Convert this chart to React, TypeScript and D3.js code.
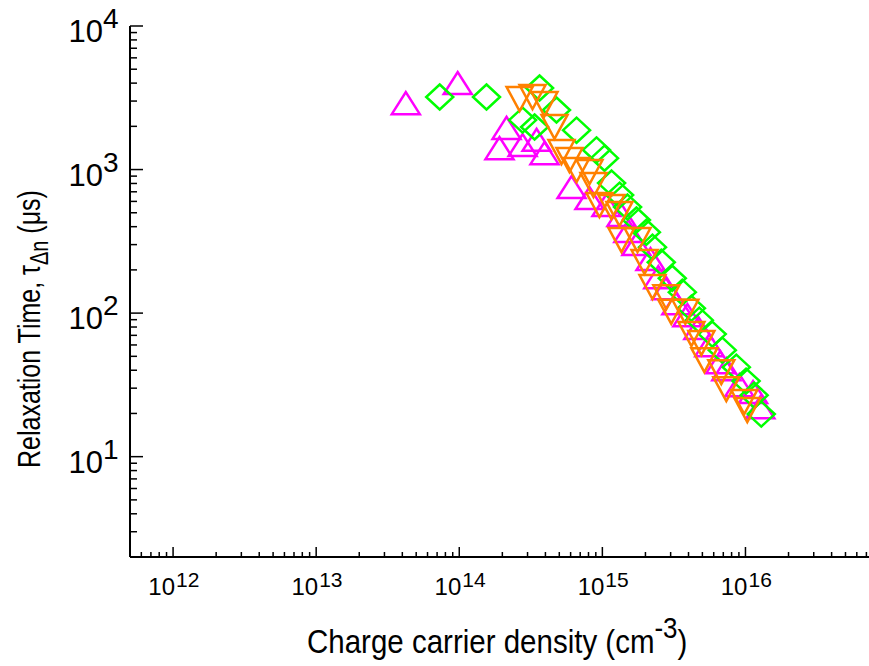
import React, { useEffect, useRef } from 'react';
import * as d3 from 'd3';

// Charge carrier density (cm^-3) and relaxation time (µs)
const magentaX = [4.23e13, 9.75e13, 2.14e14, 1.91e14, 2.77e14, 3.47e14, 3.94e14, 6.09e14, 8.13e14, 1.068e15, 1.36e15, 1.52e15, 1.73e15, 2.17e15, 2.46e15, 2.8e15, 3.29e15, 3.93e15, 4.69e15, 5.59e15, 6.67e15, 7.35e15, 9.06e15, 1.13e16, 1.27e16];
const magentaY = [2900, 4010, 1950, 1410, 1480, 1610, 1300, 755, 633, 566, 482, 373, 303, 238, 178, 149, 117, 96.8, 78.6, 59.8, 45.5, 40.7, 31.5, 28.2, 22.1];

const greenX = [7.3e13, 1.55e14, 2.77e14, 3.36e14, 3.64e14, 4.78e14, 6.6e14, 9.1e14, 1.035e15, 1.16e15, 1.32e15, 1.5e15, 1.73e15, 2.03e15, 2.24e15, 2.58e15, 3.08e15, 3.62e15, 4.19e15, 4.76e15, 5.86e15, 6.89e15, 8.63e15, 1.01e16, 1.15e16, 1.29e16];
const greenY = [3200, 3200, 2210, 1980, 3700, 2600, 1880, 1370, 1200, 805, 664, 548, 445, 366, 288, 226, 175, 140, 108, 89.3, 71.4, 55.2, 42.0, 33.6, 26.8, 19.8];

const orangeX = [2.64e14, 3.25e14, 3.94e14, 4.63e14, 5.18e14, 5.89e14, 6.6e14, 8.13e14, 8.67e14, 9.54e14, 1.157e15, 1.316e15, 1.36e15, 1.76e15, 1.97e15, 2.24e15, 2.8e15, 3.03e15, 3.8e15, 4.19e15, 4.92e15, 5.16e15, 6.78e15, 7.35e15, 9.81e15, 1.03e16];
const orangeY = [3100, 3200, 2860, 1980, 1325, 1165, 992, 961, 780, 566, 548, 490, 323, 323, 227, 152, 129, 102, 102, 71.4, 61.8, 47.0, 38.8, 29.5, 24.0, 21.1];

const xExponents = ['12', '13', '14', '15', '16'];
const yExponents = ['1', '2', '3', '4'];

const FONT = '"Liberation Sans", Arial, sans-serif';

const App = () => {
  const ref = useRef<SVGSVGElement>(null);

  useEffect(() => {
    const svg = d3.select(ref.current);
    svg.selectAll('*').remove();

    const x = d3.scaleLog().domain([5e11, 7.3e16]).range([130, 869]);
    const y = d3.scaleLog().domain([2, 1e4]).range([557, 26]);
    const isMajor = (v: number) => Math.abs(Math.log10(v) - Math.round(Math.log10(v))) < 1e-6;

    // axis lines
    svg.append('line').attr('x1', 130).attr('x2', 130).attr('y1', 26).attr('y2', 557)
      .attr('stroke', 'black').attr('stroke-width', 2);
    svg.append('line').attr('x1', 130).attr('x2', 869).attr('y1', 557).attr('y2', 557)
      .attr('stroke', 'black').attr('stroke-width', 2);

    // ticks, pointing into the plot
    svg.selectAll('.xtick').data(x.ticks()).enter().append('line')
      .attr('x1', d => x(d)).attr('x2', d => x(d))
      .attr('y1', 557).attr('y2', d => 557 - (isMajor(d) ? 10 : 5))
      .attr('stroke', 'black').attr('stroke-width', 1.5);
    svg.selectAll('.ytick').data(y.ticks()).enter().append('line')
      .attr('y1', d => y(d)).attr('y2', d => y(d))
      .attr('x1', 130).attr('x2', d => 130 + (isMajor(d) ? 13 : 7))
      .attr('stroke', 'black').attr('stroke-width', 1.5);

    // x tick labels: 10^n
    xExponents.forEach(e => {
      const px = x(Math.pow(10, +e));
      svg.append('text').attr('x', px + 2).attr('y', 595).attr('text-anchor', 'end')
        .attr('font-family', FONT).attr('font-size', 24).text('10');
      svg.append('text').attr('x', px + 3).attr('y', 587)
        .attr('font-family', FONT).attr('font-size', 21).text(e);
    });

    // y tick labels
    yExponents.forEach(e => {
      const py = y(Math.pow(10, +e));
      svg.append('text').attr('x', 103).attr('y', py + 16).attr('text-anchor', 'end')
        .attr('font-family', FONT).attr('font-size', 31).text('10');
      svg.append('text').attr('x', 103).attr('y', py + 2)
        .attr('font-family', FONT).attr('font-size', 28).text(e);
    });

    // axis titles
    const xt = svg.append('g').attr('transform', 'translate(307,653) scale(1,1.12)')
      .append('text').attr('font-family', FONT).attr('font-size', 29.5);
    xt.append('tspan').text('Charge carrier density (cm');
    xt.append('tspan').attr('font-size', 26).attr('dy', -13).text('-3');
    xt.append('tspan').attr('dy', 13).text(')');

    const yt = svg.append('g').attr('transform', 'translate(40,468) rotate(-90) scale(1,1.25)')
      .append('text').attr('font-family', FONT).attr('font-size', 25);
    yt.append('tspan').text('Relaxation Time, τ');
    yt.append('tspan').attr('font-size', 20).attr('dy', 6).text('Δn');
    yt.append('tspan').attr('dy', -6).text(' (μs)');

    // markers
    const triUp = 'M-14,11L14,11L0,-11Z';
    const diamond = 'M0,-12.5L13.5,0L0,12.5L-13.5,0Z';
    const triDown = 'M-13,-12L13,-12L0,12Z';

    const series = [
      { xs: magentaX, ys: magentaY, shape: triUp, color: '#ff00ff' },
      { xs: greenX, ys: greenY, shape: diamond, color: '#00ff00' },
      { xs: orangeX, ys: orangeY, shape: triDown, color: '#ff8000' },
    ];
    series.forEach(s => {
      svg.append('g').selectAll('path').data(s.xs.map((v, i) => [v, s.ys[i]])).enter()
        .append('path')
        .attr('d', s.shape)
        .attr('transform', d => `translate(${x(d[0])},${y(d[1])})`)
        .attr('fill', 'none')
        .attr('stroke', s.color)
        .attr('stroke-width', 2.5);
    });
  }, []);

  return (
    <svg ref={ref} width={869} height={666}
      style={{ position: 'absolute', left: 0, top: 0, background: 'white' }} />
  );
};

export default App;
